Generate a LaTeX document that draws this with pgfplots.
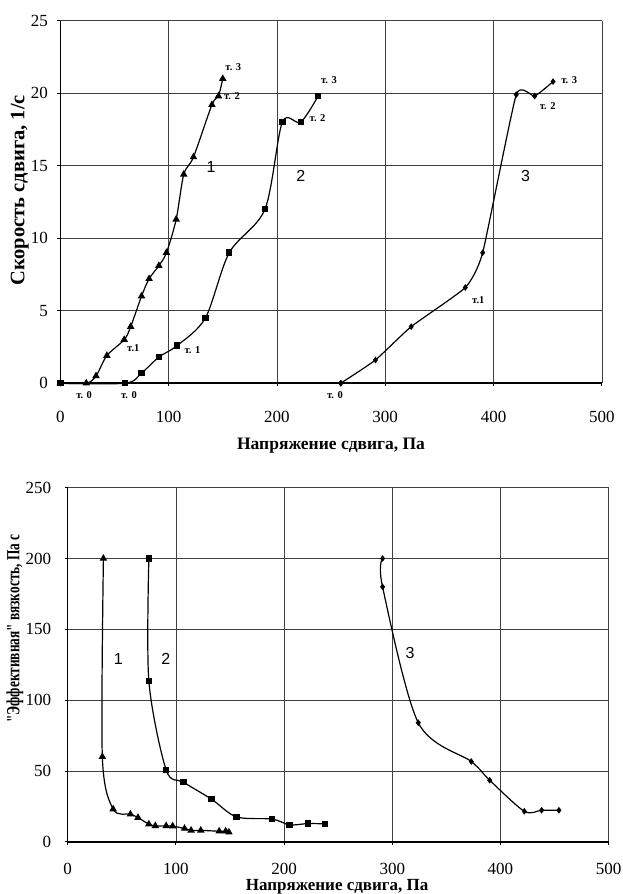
\documentclass[border=0pt]{standalone}
\usepackage{pgfplots}
\pgfplotsset{compat=1.18}
\usepackage{fontspec}
\setmainfont{Liberation Serif}
\newfontfamily\arial{Liberation Sans}
\newfontfamily\narrowserif[FakeStretch=0.72]{Liberation Serif}

\pgfplotsset{
  flowplot/.style={
    scale only axis,
    xmin=0, xmax=500,
    xtick={0,100,...,500},
    axis x line*=bottom, axis y line*=left,
    axis line style={-, line width=1.6pt, black},
    grid=major,
    major grid style={black!75, line width=0.6pt},
    tick align=outside,
    major tick length=3pt,
    tick style={black, line width=0.8pt},
    /pgf/number format/assume math mode=true,
    ticklabel style={font=\fontsize{17}{20}\selectfont},
    clip=false,
  },
  curve/.style={black, line width=1.2pt, smooth},
}
\tikzset{
  tlab/.style={font=\bfseries\fontsize{10.5}{12}\selectfont, inner sep=0pt},
  clab/.style={font=\arial\fontsize{16}{18}\selectfont, inner sep=0pt},
}

\begin{document}
\begin{tikzpicture}[x=1pt,y=1pt]
\path[use as bounding box] (0,0) rectangle (622,894);

% Flow curves: shear rate vs shear stress
\begin{axis}[flowplot,
  at={(60.3pt,510.8pt)}, anchor=south west,
  width=541.5pt, height=362.5pt,
  ymin=0, ymax=25, ytick={0,5,...,25},
  xticklabel style={yshift=-21pt},
  yticklabel style={xshift=-6pt},
]
\addplot[curve, mark=triangle*, mark size=3.2pt] coordinates {
  (0,0) (24,0) (33,0.5) (43,1.9) (59,3.0) (65,3.9) (75,6.0) (82,7.2)
  (91,8.1) (98,9.0) (107,11.3) (114,14.4) (123,15.6) (140,19.2)
  (146,19.8) (150,21.0)};
\addplot[curve, mark=square*, mark size=2.6pt] coordinates {
  (0,0) (60,0) (75,0.7) (91,1.8) (108,2.6) (134,4.5) (156,9.0)
  (189,12.0) (205,18.0) (222,18.0) (238,19.8)};
% zero-rate stretch of curve 3, then its flow branch
\addplot[black, line width=1.2pt, mark=diamond*, mark size=2.4pt] coordinates {
  (0,0) (259,0)};
\addplot[black, line width=1.2pt, smooth, tension=0.28, mark=diamond*, mark size=2.4pt] coordinates {
  (259,0) (291,1.6) (324,3.9) (374,6.6) (390,9.0) (421,19.9)
  (438,19.8) (455,20.8)};

\node[tlab] at (axis cs:159.7,21.8) {т. 3};
\node[tlab] at (axis cs:158.5,19.8) {т. 2};
\node[tlab] at (axis cs:67.4,2.4) {т.1};
\node[tlab] at (axis cs:22,-0.85) {т. 0};
\node[tlab] at (axis cs:248,20.9) {т. 3};
\node[tlab] at (axis cs:237.5,18.3) {т. 2};
\node[tlab] at (axis cs:122,2.25) {т. 1};
\node[tlab] at (axis cs:63.4,-0.85) {т. 0};
\node[tlab] at (axis cs:469.9,20.9) {т. 3};
\node[tlab] at (axis cs:450,19.1) {т. 2};
\node[tlab] at (axis cs:386,5.7) {т.1};
\node[tlab] at (axis cs:253.6,-0.85) {т. 0};

\node[clab] at (axis cs:139.3,14.9) {1};
\node[clab] at (axis cs:222,14.3) {2};
\node[clab] at (axis cs:429.7,14.3) {3};

\node[font=\bfseries\fontsize{17.5}{20}\selectfont] at (axis cs:250,-4.3) {Напряжение сдвига, Па};
\node[font=\bfseries\fontsize{20.5}{24}\selectfont, rotate=90] at (axis cs:-37.5,13.3) {Скорость сдвига, 1/с};
\end{axis}

% Apparent viscosity vs shear stress
\begin{axis}[flowplot,
  at={(67.7pt,52.3pt)}, anchor=south west,
  width=541pt, height=354pt,
  ymin=0, ymax=250, ytick={0,50,...,250},
  xticklabel style={yshift=-15pt},
  yticklabel style={xshift=-10pt},
]
\addplot[curve, mark=triangle*, mark size=3.2pt] coordinates {
  (33,200) (32,60) (42,23) (58,19.4) (65,17) (75,12.4) (81,11.2)
  (91,11.2) (97,11) (108,9.3) (114,8) (123,8) (140,7.4) (146,7.4)
  (149,6.7)};
\addplot[curve, mark=square*, mark size=2.6pt] coordinates {
  (75,200) (75,113.5) (91,50.7) (107,42) (133,30) (156,17.5) (189,16)
  (205,11.9) (222,12.8) (238,12.6)};
\addplot[curve, mark=diamond*, mark size=2.4pt] coordinates {
  (291,200) (291,180) (324,84) (373,56.6) (390,43.4) (422,21.5)
  (438,22.2) (454,22.2)};

\node[clab] at (axis cs:46.8,129) {1};
\node[clab] at (axis cs:90.6,129) {2};
\node[clab] at (axis cs:316.4,133) {3};

\node[font=\bfseries\fontsize{17}{20}\selectfont] at (axis cs:249,-32) {Напряжение сдвига, Па};
\node[font=\narrowserif\bfseries\fontsize{18.5}{22}\selectfont, rotate=90] at (axis cs:-48.7,150.5) {\symbol{34}Эффективная\symbol{34} вязкость, Па с};
\end{axis}
\end{tikzpicture}
\end{document}
